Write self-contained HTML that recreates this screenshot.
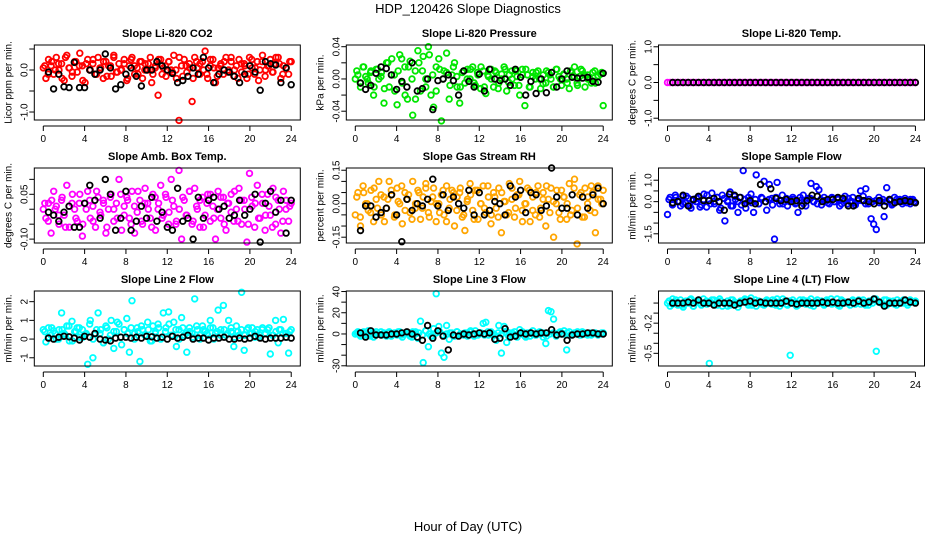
<!DOCTYPE html>
<html><head><meta charset="utf-8">
<style>
html,body{margin:0;padding:0;background:#fff;}
svg{display:block;font-family:"Liberation Sans",Arial,sans-serif;}
</style></head>
<body>
<svg id="chart" width="936" height="540" viewBox="0 0 936 540">
<text x="468" y="13" text-anchor="middle" font-size="13">HDP_120426  Slope Diagnostics</text>
<text x="468" y="531" text-anchor="middle" font-size="13">Hour of Day (UTC)</text>
</svg>
<script>
const hourTicks = [0,4,8,12,16,20,24];
const titles = ["Slope Li-820 CO2","Slope Li-820 Pressure","Slope Li-820 Temp.","Slope Amb. Box Temp.","Slope Gas Stream RH","Slope Sample Flow","Slope Line 2 Flow","Slope Line 3 Flow","Slope Line 4 (LT) Flow"];
const yTitles = ["Licor ppm per min.","kPa per min.","degrees C per min.","degrees C per min.","percent per min.","ml/min per min.","ml/min per min.","ml/min per min.","ml/min per min."];
const colors = ["#ff0000","#00e600","#ff00ff","#ff00ff","#ffa500","#0000ff","#00ffff","#00ffff","#00ffff"];
const yLimits = [[-1.19,0.595],[-0.0509,0.0421],[-1.05,1.05],[-0.113,0.138],[-0.176,0.16],[-1.93,1.57],[-1.44,2.57],[-30.2,40.5],[-0.626,0.12]];
const yTickVals = [[-1,-0.5,0,0.5],[-0.04,-0.02,0,0.02,0.04],[-1,-0.5,0,0.5,1],[-0.1,-0.05,0,0.05,0.1],[-0.15,-0.1,-0.05,0,0.05,0.1,0.15],[-1.5,-1,-0.5,0,0.5,1],[-1,0,1,2],[-30,-20,-10,0,10,20,30,40],[-0.5,-0.4,-0.3,-0.2,-0.1,0]];
const yTickLabels = [["-1.0","","0.0",""],["-0.04","","0.00","","0.04"],["-1.0","","0.0","","1.0"],["-0.10","","","0.05",""],["-0.15","","","0.00","","","0.15"],["-1.5","","","0.0","","1.0"],["-1","0","1","2"],["-30","","","0","","20","","40"],["-0.5","","","-0.2","",""]];

const co2Col = [0.05,-0.2,0.25,0.1,-0.1,0.3,0.0,0.15,-0.25,0.35,0.05,-0.15,0.2,-0.05,0.4,0.1,-0.3,0.25,0.0,0.15,-0.1,0.3,0.05,-0.2,0.2,0.1,-0.15,0.35,-0.05,0.15,0.0,0.25,-0.25,0.1,0.3,-0.1,0.05,0.2,-0.2,0.15,0.0,0.3,-0.1,0.1,-0.6,0.25,0.05,-0.15,0.2,0.0,0.35,-0.2,-1.2,0.1,0.25,-0.05,0.15,-0.75,0.3,0.05,-0.1,0.2,0.45,-0.2,0.1,0.25,-0.3,0.05,0.15,-0.1,0.3,0.0,0.2,-0.15,0.1,0.25,-0.05,0.15,-0.2,0.3,0.05,-0.1,0.2,0.0,0.35,-0.15,0.1,0.25,-0.05,0.15,0.3,-0.2,0.1,0.05,-0.1,0.2];
const co2Col2 = [0.1,-0.1,0.2,0.0,0.15,-0.2,0.3,0.05,-0.05,0.2,0.1,-0.25,0.15,0.0,0.25,-0.1,0.05,0.2,-0.15,0.1,0.3,-0.05,0.0,0.15,-0.2,0.25,0.1,-0.1,0.2,0.0,0.15,-0.3,0.05,0.25,-0.1,0.1,0.2,-0.05,0.0,0.3,-0.15,0.1,0.05,-0.2,0.2,0.15,0.0,-0.1,0.25,0.05,-0.15,0.1,0.2,-0.05,0.3,0.0,-0.2,0.15,0.1,-0.1,0.25,0.05,-0.25,0.2,0.0,0.1,-0.05,0.3,0.15,-0.1,0.05,0.2];
const co2Blk = [-0.05,-0.45,-0.1,-0.4,-0.42,0.18,-0.42,-0.42,0.0,-0.1,0.0,0.38,0.05,-0.45,-0.35,-0.1,0.05,-0.15,-0.38,0.0,0.0,0.2,0.1,0.0,-0.08,-0.3,-0.25,-0.15,0.05,-0.1,0.3,0.05,-0.3,-0.1,0.0,-0.05,-0.15,-0.3,-0.1,0.1,-0.05,-0.48,0.2,0.15,0.12,-0.3,0.05,-0.35];
const presCol = [0.0,0.005,-0.01,0.015,0.003,-0.005,0.01,-0.02,0.012,0.0,0.008,-0.03,0.02,-0.01,0.025,0.005,-0.032,0.03,-0.005,0.015,-0.025,0.022,-0.045,0.01,0.035,-0.015,0.028,0.0,0.04,-0.02,-0.035,0.015,0.025,-0.052,0.01,0.032,-0.025,0.005,0.02,-0.01,-0.03,0.008,-0.005,0.012,0.0,0.015,-0.008,0.005,-0.012,0.01,-0.018,0.003,0.012,-0.01,0.008,-0.005,0.0,0.015,-0.015,0.005,0.01,-0.008,0.003,-0.02,0.012,-0.033,0.005,-0.01,0.008,0.0,0.01,-0.012,0.005,-0.005,0.008,0.0,-0.01,0.012,0.003,-0.008,0.005,0.0,-0.012,0.008,0.015,-0.005,0.003,0.01,-0.01,0.005,0.0,0.008,-0.005,0.003,0.006,-0.033];
const presCol2 = [0.01,-0.005,0.015,0.0,0.008,-0.01,0.012,0.003,-0.012,0.02,0.005,-0.015,0.01,0.025,-0.02,0.015,0.0,-0.025,0.02,0.01,-0.01,0.03,0.005,-0.015,0.012,0.0,0.008,-0.008,0.015,0.003,-0.01,0.01,0.0,0.012,-0.005,0.008,0.015,-0.01,0.005,0.0,0.01,-0.012,0.006,0.012,-0.004,0.0,0.01,-0.008,0.005,0.012,-0.01,0.003,0.008,0.0,-0.006,0.01,0.005,-0.01,0.012,0.0,0.006,-0.005,0.01,0.003,-0.008,0.012,0.005,0.0,-0.005,0.01,0.004,0.008];
const presBlk = [-0.005,-0.013,-0.008,0.007,0.015,0.013,0.005,-0.013,-0.003,-0.01,0.02,-0.015,-0.012,0.0,-0.038,-0.002,0.0,0.005,-0.002,-0.02,0.01,-0.003,-0.01,0.006,-0.015,0.012,0.0,-0.002,0.0,-0.008,0.012,0.002,-0.02,-0.003,-0.018,0.0,-0.017,0.008,-0.01,0.0,0.01,0.002,0.001,0.001,0.002,-0.003,-0.004,0.007];
const tempCol = [0,0,0,0,0,0,0,0,0,0,0,0,0,0,0,0,0,0,0,0,0,0,0,0,0,0,0,0,0,0,0,0,0,0,0,0,0,0,0,0,0,0,0,0,0,0,0,0,0,0,0,0,0,0,0,0,0,0,0,0,0,0,0,0,0,0,0,0,0,0,0,0,0,0,0,0,0,0,0,0,0,0,0,0,0,0,0,0,0,0,0,0,0,0,0,0];
const tempCol2 = [];
const tempBlk = [0,0,0,0,0,0,0,0,0,0,0,0,0,0,0,0,0,0,0,0,0,0,0,0,0,0,0,0,0,0,0,0,0,0,0,0,0,0,0,0,0,0,0,0,0,0,0,0];
const boxCol = [0.0,-0.03,0.02,-0.08,0.06,0.01,-0.05,0.03,-0.02,0.08,-0.06,0.02,0.0,-0.04,0.05,-0.09,0.02,0.06,-0.03,0.01,-0.06,0.04,-0.02,0.03,-0.08,0.0,0.05,-0.04,0.02,0.1,-0.07,0.01,0.04,-0.03,0.06,-0.08,-0.01,0.03,-0.05,0.07,0.02,-0.03,0.05,-0.07,0.0,0.08,-0.02,0.04,-0.05,0.1,0.01,-0.04,0.13,-0.1,0.03,-0.02,0.06,-0.05,0.07,0.0,-0.06,0.04,-0.02,0.05,-0.04,0.01,-0.1,0.06,-0.03,0.04,-0.07,0.02,0.05,-0.04,0.0,0.07,-0.05,0.03,-0.11,0.12,0.01,-0.06,0.08,-0.03,0.02,-0.07,0.05,-0.02,0.07,-0.05,0.03,-0.08,0.06,0.0,-0.04,0.02];
const boxCol2 = [0.02,-0.04,0.03,0.0,-0.02,0.04,-0.06,0.01,0.05,-0.03,0.02,-0.05,0.0,0.03,-0.04,0.06,-0.01,0.02,-0.06,0.04,0.0,-0.03,0.05,-0.02,0.03,-0.05,0.01,0.06,-0.04,0.02,0.0,-0.06,0.04,0.02,-0.03,0.05,-0.01,0.03,-0.05,0.0,0.04,-0.02,0.06,-0.04,0.01,0.03,-0.06,0.02,0.05,-0.03,0.0,0.04,-0.05,0.02,-0.01,0.06,-0.04,0.03,0.0,-0.05,0.04,0.02,-0.03,0.05,-0.02,0.01,-0.06,0.04,0.0,-0.04,0.03,0.01];
const boxBlk = [-0.01,-0.02,-0.04,-0.01,0.01,-0.06,-0.06,0.02,0.08,0.03,-0.03,0.1,0.05,-0.07,-0.03,0.06,-0.07,-0.04,0.01,-0.03,0.04,-0.04,-0.01,-0.06,-0.07,0.07,-0.04,-0.03,-0.1,0.04,-0.03,0.03,0.04,0.0,0.01,-0.03,-0.02,0.03,-0.02,0.0,0.05,-0.11,0.02,0.06,-0.01,0.03,-0.08,0.03];
const rhCol = [-0.05,0.05,-0.1,0.08,0.0,-0.03,0.06,-0.08,0.02,0.1,-0.05,0.03,-0.02,0.1,0.04,-0.06,0.07,0.0,-0.09,0.05,0.02,-0.04,0.1,-0.02,0.06,-0.07,0.03,0.09,-0.04,0.01,0.07,-0.08,0.0,0.04,-0.05,0.08,-0.02,0.06,-0.1,0.03,0.05,-0.06,-0.12,0.02,0.09,-0.03,0.06,-0.07,0.0,0.08,-0.04,0.03,-0.09,0.05,-0.02,0.07,-0.13,0.01,-0.05,0.09,0.02,-0.06,0.04,0.1,-0.03,0.0,0.07,-0.08,0.03,-0.05,0.08,-0.02,0.05,-0.1,0.02,0.07,-0.15,0.0,-0.04,0.06,0.03,-0.07,0.09,-0.03,0.11,-0.18,0.04,-0.06,0.07,0.0,-0.03,0.05,-0.13,0.08,0.02,0.06];
const rhCol2 = [0.03,-0.06,0.05,0.0,-0.04,0.07,-0.02,0.04,-0.08,0.02,0.06,-0.05,0.01,0.08,-0.03,0.04,-0.07,0.0,0.05,-0.02,0.07,-0.06,0.03,0.0,-0.04,0.06,-0.08,0.02,0.05,-0.03,0.07,-0.05,0.01,0.04,-0.07,0.06,0.0,-0.02,0.08,-0.05,0.03,-0.06,0.05,0.01,-0.04,0.07,-0.02,0.04,-0.08,0.0,0.06,-0.03,0.05,-0.06,0.02,0.08,-0.04,0.01,0.06,-0.07,0.03,0.0,-0.05,0.07,-0.02,0.05,-0.06,0.03,0.08,-0.04,0.02,0.0];
const rhBlk = [-0.12,-0.01,-0.01,-0.06,-0.04,-0.02,0.04,-0.05,-0.17,0.02,-0.03,0.0,-0.01,0.02,0.11,-0.01,0.04,-0.03,0.03,0.0,-0.02,0.06,-0.05,0.05,-0.05,-0.03,0.01,0.0,-0.05,0.08,0.03,0.06,-0.04,0.05,0.04,-0.03,-0.01,0.16,0.03,-0.02,-0.02,0.04,-0.05,0.03,-0.02,0.04,0.07,0.0];
const sampCol = [-0.6,0.2,-0.1,0.3,0.0,-0.2,0.25,-0.05,0.15,-0.3,0.1,0.0,0.2,-0.15,0.35,-0.25,0.05,0.4,-0.1,0.2,-0.4,0.3,-0.9,0.0,0.45,-0.2,0.1,-0.5,0.2,1.45,-0.3,0.0,0.35,-0.5,1.25,-0.1,0.2,0.95,-0.4,0.8,0.15,-1.75,0.9,-0.1,0.3,0.0,-0.2,0.1,0.2,-0.1,-0.5,0.05,0.3,-0.2,0.15,0.85,0.0,0.7,0.55,-0.15,0.2,0.05,-0.1,0.2,0.0,0.15,-0.2,0.1,0.25,-0.1,0.0,0.2,-0.15,0.05,0.5,0.25,0.6,-0.1,-0.8,-1.05,-1.3,0.2,0.0,-0.7,0.65,0.1,-0.15,0.2,0.0,0.1,-0.1,0.15,0.05,-0.1,0.1,-0.05];
const sampCol2 = [0.1,-0.15,0.2,0.0,-0.1,0.25,-0.2,0.05,0.15,-0.25,0.1,0.3,-0.1,0.0,0.2,-0.3,0.15,0.05,-0.2,0.25,0.0,-0.15,0.1,0.2,-0.05,0.1,-0.1,0.15,0.0,0.1,-0.15,0.2,0.05,-0.1,0.15,0.0,0.1,-0.05,0.2,-0.1,0.05,0.15,0.0,-0.1,0.1,0.05,-0.05,0.15,0.0,0.1,-0.1,0.05,0.15,0.0,-0.05,0.1,0.05,-0.1,0.1,0.0,0.05,-0.05,0.1,0.0,0.05,-0.1,0.1,0.05,0.0,-0.05,0.1,0.0];
const sampBlk = [-0.05,0.0,0.3,-0.2,0.1,0.25,0.05,0.05,0.15,0.0,-0.4,0.35,0.3,0.2,-0.1,0.05,-0.1,0.8,0.0,0.6,0.15,0.05,0.1,0.0,0.05,-0.2,0.05,0.3,0.25,0.0,0.1,0.1,0.2,0.15,-0.2,-0.2,0.15,0.05,0.0,-0.1,0.05,-0.2,0.1,-0.05,0.0,0.05,0.0,-0.05];
const l2Col = [0.5,-0.15,0.6,0.2,0.45,0.0,0.5,1.4,0.3,0.7,-0.1,0.95,0.4,0.6,0.1,0.5,0.25,-1.35,1.0,-1.0,0.3,1.4,0.5,-0.2,0.7,0.0,1.0,-0.5,0.4,0.8,-0.3,0.5,1.1,-0.7,2.05,0.3,0.6,-1.2,0.5,0.2,0.9,-0.1,0.7,0.4,0.8,0.0,1.4,0.6,1.45,0.2,0.9,-0.4,0.5,1.15,0.2,-0.7,0.6,0.3,2.15,0.5,0.0,0.7,0.4,0.2,1.0,0.6,0.3,1.55,0.5,1.8,0.2,1.0,0.4,-0.4,0.7,0.2,2.5,-0.6,0.5,0.3,0.6,0.1,0.5,0.2,0.6,0.3,0.5,-0.8,0.2,1.0,-0.2,0.5,1.05,0.3,-0.75,0.5];
const l2Col2 = [0.4,0.1,0.6,0.3,0.0,0.5,0.2,0.7,-0.1,0.4,0.6,0.1,0.3,0.8,0.0,0.5,0.3,-0.2,0.6,0.2,0.4,0.9,0.1,0.5,0.3,0.6,0.0,0.4,0.7,0.2,0.5,-0.1,0.3,0.6,0.1,0.4,0.8,0.2,0.5,0.0,0.6,0.3,0.4,0.1,0.7,0.2,0.5,0.3,0.6,0.0,0.4,0.2,0.5,0.3,0.6,0.1,0.4,0.5,0.2,0.6,0.3,0.4,0.1,0.5,0.3,0.6,0.2,0.4,0.5,0.3,0.1,0.4];
const l2Blk = [0.05,0.0,0.1,0.15,0.12,0.05,-0.05,0.15,0.1,0.3,0.0,-0.05,-0.1,0.05,0.1,0.1,0.05,0.1,0.05,0.15,0.12,0.05,0.1,0.0,0.15,0.05,0.1,0.2,0.0,0.05,0.05,-0.05,0.05,0.05,0.1,0.0,0.0,0.05,0.0,0.05,0.15,0.05,0.0,0.05,0.05,0.05,0.1,0.05];
const l3Col = [0,2,-2,1,-1,3,0,-3,2,0,-1,1,-2,2,0,1,-1,2,-3,0,1,-2,2,0,-4,12,-27,3,-12,-2,5,38,7,-18,-22,8,-5,1,-2,2,-1,0,1,-2,2,0,3,-1,1,10,11,-1,2,0,-6,8,-18,7,-8,1,-1,2,-3,4,0,-2,1,-2,3,-1,1,0,-3,-9,22,21,14,-2,1,0,3,-15,2,-1,1,0,-1,2,0,-1,1,0,1,-1,0,1];
const l3Col2 = [1,-1,2,0,-2,1,0,2,-1,1,-2,0,2,-1,1,0,-3,2,1,-1,3,0,-2,1,2,-1,0,1,-2,2,0,-1,1,3,-2,0,1,-1,2,0,-1,1,0,2,-2,1,-1,0,2,-3,1,0,-1,2,1,-2,0,1,-1,2,0,1,-1,0,2,-1,1,0,-1,1,0,1];
const l3Blk = [1,-3,3,-1,-1,-1,0,0,1,2,0,-3,-6,8,-4,3,-2,-15,-1,-2,0,-1,0,1,0,1,-5,-4,5,-3,-2,1,0,1,0,1,1,4,-1,0,-6,-1,0,0,1,1,0,0];
const l4Col = [0.0,-0.03,0.04,0.01,-0.02,0.03,-0.04,0.02,0.0,0.04,-0.03,0.01,0.03,-0.02,0.0,0.02,-0.6,0.03,-0.01,0.02,0.04,-0.03,0.0,0.02,-0.02,0.03,0.0,-0.04,0.02,0.01,0.03,-0.02,0.05,0.0,-0.03,0.02,0.01,-0.02,0.03,0.0,-0.01,0.02,0.04,-0.03,0.0,0.02,-0.02,-0.52,0.03,0.01,-0.02,0.0,0.03,-0.01,0.02,0.04,-0.03,0.01,0.0,0.02,-0.02,0.03,0.01,-0.01,0.0,0.04,-0.03,0.02,0.0,0.01,-0.02,0.03,0.0,0.02,-0.01,0.03,0.0,-0.02,0.02,0.04,-0.48,0.01,0.0,0.03,-0.02,0.02,0.0,-0.01,0.03,0.01,0.0,0.02,-0.02,0.03,0.01,0.02];
const l4Col2 = [0.02,-0.01,0.03,0.0,-0.02,0.01,0.03,-0.03,0.02,0.0,0.04,-0.01,0.01,0.03,-0.02,0.02,0.0,-0.03,0.03,0.01,-0.01,0.02,0.04,0.0,-0.02,0.03,0.01,-0.01,0.02,0.0,0.03,-0.02,0.01,0.04,-0.01,0.02,0.0,-0.03,0.03,0.01,0.02,-0.02,0.0,0.03,0.01,-0.01,0.02,0.04,0.0,-0.02,0.03,0.01,0.0,0.02,-0.01,0.03,0.01,-0.02,0.02,0.0,0.04,0.01,-0.01,0.03,0.0,0.02,-0.02,0.01,0.03,0.0,0.02,0.01];
const l4Blk = [0.0,0.0,0.0,0.01,0.0,0.03,0.0,0.0,-0.02,0.0,0.0,0.0,-0.02,0.0,0.01,0.02,0.0,0.01,0.0,0.0,0.0,0.0,0.02,0.0,-0.01,0.0,0.0,0.0,0.0,0.01,0.0,0.01,0.0,0.0,0.01,0.0,0.02,0.0,0.01,0.04,0.01,-0.03,0.0,0.0,0.0,0.03,0.01,0.0];

const colSeries = [co2Col,presCol,tempCol,boxCol,rhCol,sampCol,l2Col,l3Col,l4Col];
const colSeries2 = [co2Col2,presCol2,tempCol2,boxCol2,rhCol2,sampCol2,l2Col2,l3Col2,l4Col2];
const blkSeries = [co2Blk,presBlk,tempBlk,boxBlk,rhBlk,sampBlk,l2Blk,l3Blk,l4Blk];

const NS = "http://www.w3.org/2000/svg";
const svg = document.getElementById("chart");
const colX0 = [43.3,355.3,667.5];
const rowTop = [45,168,291];
const rowH = 75;
const pxPerHour = 10.33;

function mk(tag, attrs, parent){
  const e = document.createElementNS(NS, tag);
  for (const k in attrs) e.setAttribute(k, attrs[k]);
  parent.appendChild(e);
  return e;
}

for (let p = 0; p < 9; p++){
  const c = p % 3, r = Math.floor(p / 3);
  const x0 = colX0[c], top = rowTop[r], bot = top + rowH;
  const [ymin, ymax] = yLimits[p];
  const xs = h => x0 + h * pxPerHour;
  const ys = v => bot - (v - ymin) / (ymax - ymin) * rowH;
  const g = mk("g", {}, svg);
  
  

  const t = mk("text", {x: x0 + 124, y: top - 8, "text-anchor": "middle", "font-size": "11", "font-weight": "bold"}, g);
  t.textContent = titles[p];
  
  

  const yt = mk("text", {transform: "translate(" + (x0 - 32) + "," + (top + rowH / 2) + ") rotate(-90)", "text-anchor": "middle", "font-size": "10"}, g);
  yt.textContent = yTitles[p];
  
  

  const pts = mk("g", {fill: "none", "stroke-width": "1.8"}, g);
  
  
  const cs = colSeries[p];
  for (let i = 0; i < cs.length; i++){
    const h = i * 24 / (cs.length - 1);
    const ci = mk("circle", {cx: xs(h).toFixed(1), cy: ys(cs[i]).toFixed(1), r: 2.8, stroke: colors[p]}, pts);
    
    
  }
  const cs2 = colSeries2[p];
  for (let i = 0; i < cs2.length; i++){
    const h = 0.15 + i * 23.7 / (cs2.length - 1);
    const ci = mk("circle", {cx: xs(h).toFixed(1), cy: ys(cs2[i]).toFixed(1), r: 2.8, stroke: colors[p]}, pts);
    
    
  }
  const bs = blkSeries[p];
  for (let i = 0; i < bs.length; i++){
    const h = 0.5 + i * 23.5 / (bs.length - 1);
    const ci = mk("circle", {cx: xs(h).toFixed(1), cy: ys(bs[i]).toFixed(1), r: 2.8, stroke: "#000"}, pts);
    
    
  }

  const box = mk("rect", {x: x0 - 9, y: top, width: 266, height: rowH, fill: "none", stroke: "#000", "stroke-width": "1"}, g);
  
  

  const xa = mk("g", {stroke: "#000", "stroke-width": "1"}, g);
  
  
  mk("line", {x1: xs(0), x2: xs(24), y1: bot + 6, y2: bot + 6}, xa);
  hourTicks.forEach(h => {
    mk("line", {x1: xs(h), x2: xs(h), y1: bot + 6, y2: bot + 11}, xa);
    const tl = mk("text", {x: xs(h), y: bot + 22, "text-anchor": "middle", "font-size": "10", stroke: "none"}, xa);
    tl.textContent = h;
    
    
  });

  const ya = mk("g", {stroke: "#000", "stroke-width": "1"}, g);
  
  
  const tv = yTickVals[p];
  const ax = x0 - 9;
  tv.forEach((v, k) => {
    mk("line", {x1: ax, x2: ax - 5, y1: ys(v), y2: ys(v)}, ya);
    if (yTickLabels[p][k]){
      const tl = mk("text", {transform: "translate(" + (ax - 7) + "," + ys(v) + ") rotate(-90)", "text-anchor": "middle", "font-size": "10", stroke: "none"}, ya);
      tl.textContent = yTickLabels[p][k];
      
      
    }
  });
}
</script>
</body></html>
